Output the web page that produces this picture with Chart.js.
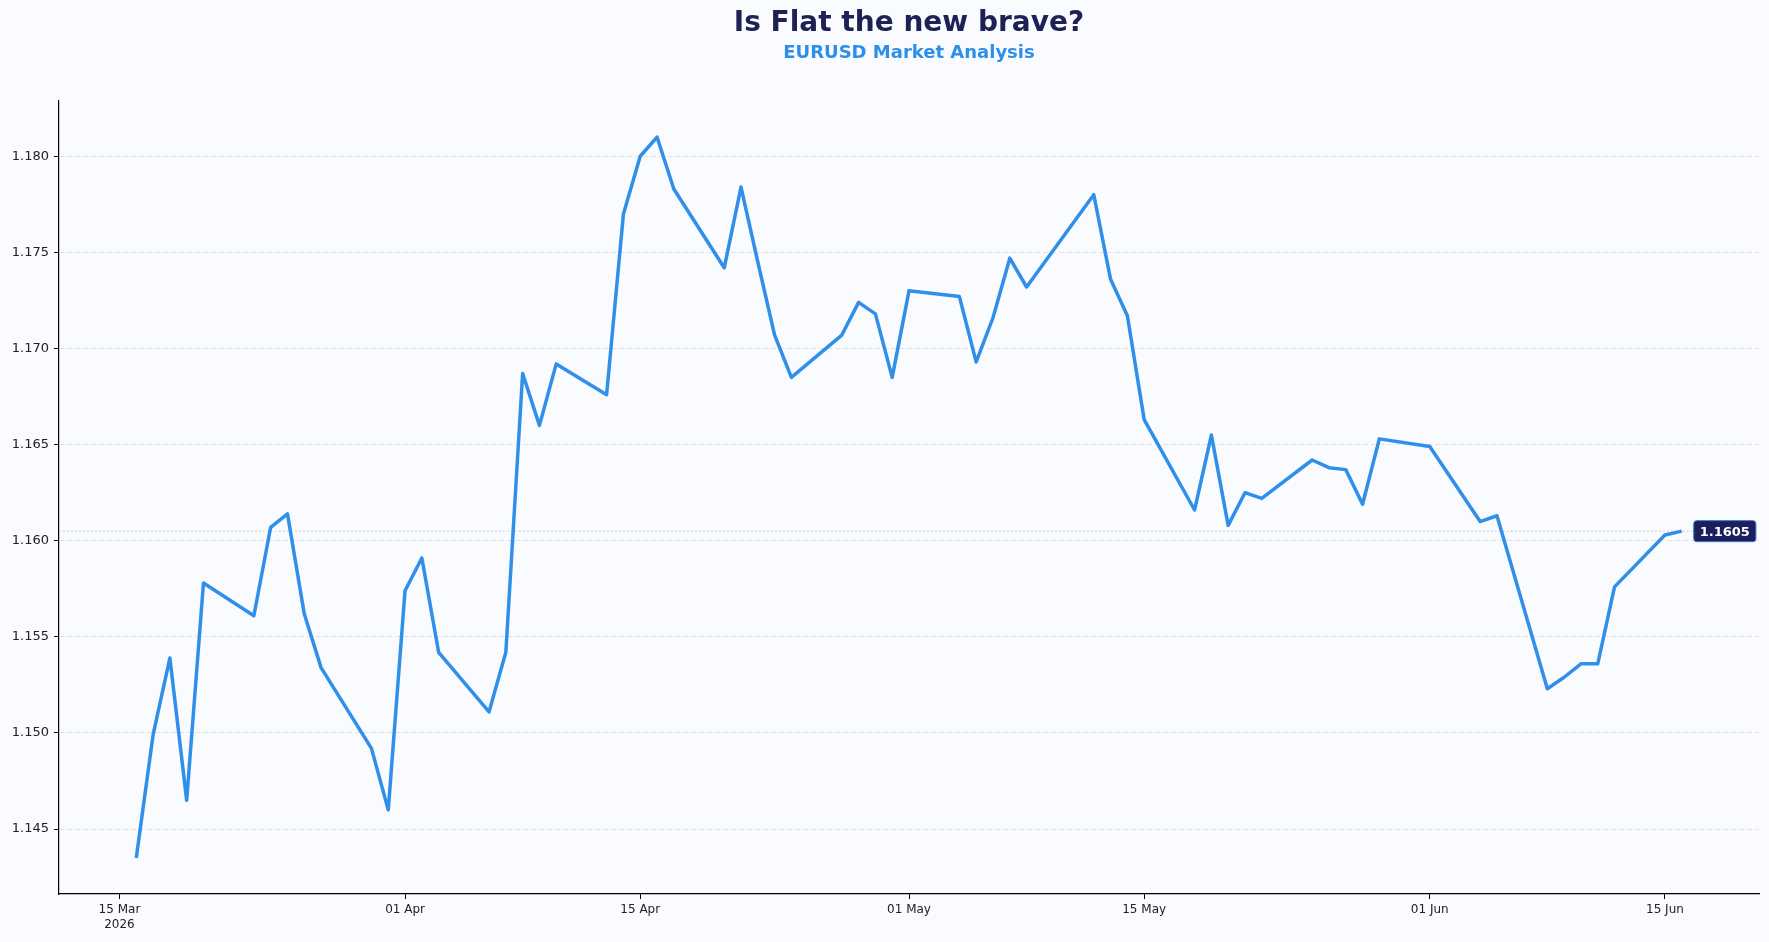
<!DOCTYPE html>
<html>
<head>
<meta charset="utf-8">
<script src="https://cdn.jsdelivr.net/npm/chart.js@4.4.1/dist/chart.umd.min.js"></script>
<style>
  html, body { margin: 0; padding: 0; background: #fafbfe; }
  #wrap { position: relative; width: 1769px; height: 942px; }
  #titles { position: absolute; left: 59px; top: 0; width: 1700px; text-align: center; font-family: "DejaVu Sans", sans-serif; font-weight: bold; }
  #titles h1 { margin: 0; position: absolute; left: 0; right: 0; top: 5px; font-size: 28px; line-height: 34px; color: #1e2154; }
  #titles h2 { margin: 0; position: absolute; left: 0; right: 0; top: 41px; font-size: 18px; line-height: 22px; color: #2e8fe8; }
</style>
</head>
<body>
<div id="wrap">
  <canvas id="chart" width="1769" height="942"></canvas>
  <div id="titles">
    <h1>Is Flat the new brave?</h1>
    <h2>EURUSD Market Analysis</h2>
  </div>
</div>
<script>
// EURUSD daily closes (trading days only)
const dates = [
  '2026-03-16','2026-03-17','2026-03-18','2026-03-19','2026-03-20',
  '2026-03-23','2026-03-24','2026-03-25','2026-03-26','2026-03-27',
  '2026-03-30','2026-03-31','2026-04-01','2026-04-02','2026-04-03',
  '2026-04-06','2026-04-07','2026-04-08','2026-04-09','2026-04-10',
  '2026-04-13','2026-04-14','2026-04-15','2026-04-16','2026-04-17',
  '2026-04-20','2026-04-21','2026-04-22','2026-04-23','2026-04-24',
  '2026-04-27','2026-04-28','2026-04-29','2026-04-30','2026-05-01',
  '2026-05-04','2026-05-05','2026-05-06','2026-05-07','2026-05-08',
  '2026-05-11','2026-05-12','2026-05-13','2026-05-14','2026-05-15',
  '2026-05-18','2026-05-19','2026-05-20','2026-05-21','2026-05-22',
  '2026-05-25','2026-05-26','2026-05-27','2026-05-28','2026-05-29',
  '2026-06-01','2026-06-02','2026-06-03','2026-06-04','2026-06-05',
  '2026-06-08','2026-06-09','2026-06-10','2026-06-11','2026-06-12',
  '2026-06-15','2026-06-16'
];
const closes = [
  1.1435, 1.1499, 1.1539, 1.1465, 1.1578,
  1.1561, 1.1607, 1.1614, 1.1562, 1.1534,
  1.1492, 1.1460, 1.1574, 1.1591, 1.1542,
  1.1511, 1.1542, 1.1687, 1.1660, 1.1692,
  1.1676, 1.1770, 1.1800, 1.1810, 1.1783,
  1.1742, 1.1784, 1.1745, 1.1707, 1.1685,
  1.1707, 1.1724, 1.1718, 1.1685, 1.1730,
  1.1727, 1.1693, 1.1716, 1.1747, 1.1732,
  1.1768, 1.1780, 1.1736, 1.1717, 1.1663,
  1.1616, 1.1655, 1.1608, 1.1625, 1.1622,
  1.1642, 1.1638, 1.1637, 1.1619, 1.1653,
  1.1649, 1.1636, 1.1623, 1.1610, 1.1613,
  1.1523, 1.1529, 1.1536, 1.1536, 1.1576,
  1.1603, 1.1605
];

const xTickDates = ['2026-03-15','2026-04-01','2026-04-15','2026-05-01','2026-05-15','2026-06-01','2026-06-15'];
const xTickLabels = [['15 Mar','2026'], '01 Apr', '15 Apr', '01 May', '15 May', '01 Jun', '15 Jun'];
const yTicks = [1.145, 1.150, 1.155, 1.160, 1.165, 1.170, 1.175, 1.180];
const lastPrice = 1.1605;

const origin = Date.UTC(2026, 2, 15);
function dayNum(s) {
  const [y, m, d] = s.split('-').map(Number);
  return (Date.UTC(y, m - 1, d) - origin) / 86400000;
}

const points = dates.map((d, i) => ({ x: dayNum(d), y: closes[i] }));
const xTickVals = xTickDates.map(dayNum);

// 5% margins like the original
const xFirst = points[0].x, xLast = points[points.length - 1].x;
const xPad = (xLast - xFirst) * 0.05;
const yMin = Math.min(...closes), yMax = Math.max(...closes);
const yPad = (yMax - yMin) * 0.05;

const lastLabel = {
  id: 'lastLabel',
  beforeDatasetsDraw(chart) {
    const { ctx, chartArea, scales } = chart;
    const y = scales.y.getPixelForValue(lastPrice);
    ctx.save();
    ctx.strokeStyle = '#b9bec8';
    ctx.lineWidth = 1;
    ctx.setLineDash([1.5, 2.5]);
    ctx.beginPath();
    ctx.moveTo(chartArea.left, y);
    ctx.lineTo(chartArea.right, y);
    ctx.stroke();
    ctx.restore();
  },
  afterDatasetsDraw(chart) {
    const { ctx, scales } = chart;
    const x = scales.x.getPixelForValue(xLast) + 12;
    const y = scales.y.getPixelForValue(lastPrice);
    const text = lastPrice.toFixed(4);
    ctx.save();
    ctx.font = 'bold 13px "DejaVu Sans"';
    const w = ctx.measureText(text).width + 12;
    const h = 21;
    ctx.beginPath();
    ctx.roundRect(x, y - h / 2, w, h, 3);
    ctx.fillStyle = '#1b1f5c';
    ctx.fill();
    ctx.strokeStyle = '#3a74cf';
    ctx.lineWidth = 1;
    ctx.stroke();
    ctx.fillStyle = '#ffffff';
    ctx.textBaseline = 'middle';
    ctx.fillText(text, x + 6, y + 1);
    ctx.restore();
  }
};

new Chart(document.getElementById('chart'), {
  type: 'line',
  data: {
    datasets: [{
      label: 'EURUSD',
      data: points,
      borderColor: '#2f8fe9',
      borderWidth: 3.5,
      pointRadius: 0,
      tension: 0,
      borderJoinStyle: 'round',
      fill: false
    }]
  },
  options: {
    responsive: false,
    animation: false,
    layout: { padding: { top: 101, right: 10, left: 0, bottom: 0 } },
    plugins: {
      legend: { display: false },
      tooltip: { enabled: false }
    },
    scales: {
      x: {
        type: 'linear',
        min: xFirst - xPad,
        max: xLast + xPad,
        afterBuildTicks: scale => { scale.ticks = xTickVals.map(v => ({ value: v })); },
        afterFit: scale => { scale.height = 48; },
        grid: { display: true, drawOnChartArea: false, drawTicks: true, tickLength: 5, tickColor: '#000', tickWidth: 1 },
        border: { display: true, color: '#000', width: 1.2 },
        ticks: {
          color: '#222',
          font: { family: 'DejaVu Sans', size: 12 },
          padding: 4,
          maxRotation: 0,
          autoSkip: false,
          callback: (v, i) => xTickLabels[i]
        }
      },
      y: {
        min: yMin - yPad,
        max: yMax + yPad,
        afterBuildTicks: scale => { scale.ticks = yTicks.map(v => ({ value: v })); },
        afterFit: scale => { scale.width = 59; },
        grid: {
          color: '#dde1e8',
          lineWidth: 1,
          drawTicks: true,
          tickLength: 5,
          tickColor: '#000',
          tickWidth: 1,
          tickBorderDash: []
        },
        border: { display: true, color: '#000', width: 1.2, dash: [5, 3] },
        ticks: {
          color: '#222',
          font: { family: 'DejaVu Sans', size: 13 },
          padding: 5,
          callback: v => v.toFixed(3)
        }
      }
    }
  },
  plugins: [lastLabel]
});
</script>
</body>
</html>
